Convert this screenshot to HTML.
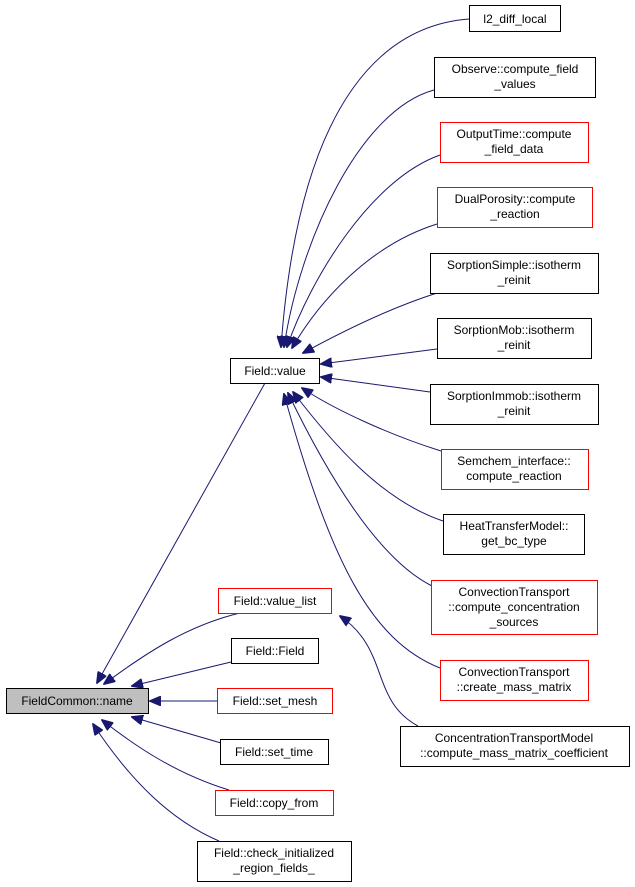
<!DOCTYPE html>
<html><head><meta charset="utf-8"><style>
html,body{margin:0;padding:0;background:#fff;}
svg{display:block;}
text{font-family:"Liberation Sans",sans-serif;font-size:12px;fill:#000;}
</style></head><body>
<svg width="635" height="887" viewBox="0 0 635 887" xmlns="http://www.w3.org/2000/svg">
<defs>
<marker id="a" markerWidth="12" markerHeight="10" refX="11" refY="5" orient="auto" markerUnits="userSpaceOnUse">
<path d="M0,0 L12,5 L0,10 Z" fill="#191970" stroke="#191970"/>
</marker>
</defs>
<g fill="none" stroke="#191970" stroke-width="1" marker-end="url(#a)">
<path d="M469,19 C390,25 300,90 281,347"/>
<path d="M434,90 C360,110 300,240 284,347"/>
<path d="M440,155 C370,180 310,280 287,347"/>
<path d="M437,224 C370,245 320,300 292,348"/>
<path d="M437,293 C390,308 345,330 303,353"/>
<path d="M437,349 L321,364"/>
<path d="M430,392 L321,377"/>
<path d="M441,451 C390,435 335,410 302,388"/>
<path d="M443,521 C380,500 330,440 293,392"/>
<path d="M432,586 C380,560 330,480 288,393"/>
<path d="M440,668 C370,640 330,560 284,394"/>
<path d="M418,726 C370,700 390,650 340,616"/>
<path d="M265,383 L97,683"/>
<path d="M240,613 C190,625 150,650 104,684"/>
<path d="M231,662 L132,686"/>
<path d="M217,701 L150,701"/>
<path d="M221,743 L132,717"/>
<path d="M229,790 C180,775 140,750 102,720"/>
<path d="M219,841 C170,820 130,780 93,724"/>
</g>
<g stroke-width="1">
<rect x="249.5" y="5.5" width="91" height="26" fill="#fff" stroke="#000" transform="translate(220,0)"/>
<rect x="434.5" y="57.5" width="161" height="40" fill="#fff" stroke="#000"/>
<rect x="440.5" y="122.5" width="148" height="40" fill="#fff" stroke="#f00"/>
<rect x="437.5" y="187.5" width="155" height="40" fill="#fff" stroke="#f00"/>
<rect x="430.5" y="253.5" width="168" height="40" fill="#fff" stroke="#000"/>
<rect x="437.5" y="318.5" width="154" height="40" fill="#fff" stroke="#000"/>
<rect x="430.5" y="384.5" width="168" height="40" fill="#fff" stroke="#000"/>
<rect x="441.5" y="449.5" width="147" height="40" fill="#fff" stroke="#f00"/>
<rect x="443.5" y="514.5" width="141" height="40" fill="#fff" stroke="#000"/>
<rect x="431.5" y="580.5" width="166" height="54" fill="#fff" stroke="#f00"/>
<rect x="440.5" y="660.5" width="148" height="40" fill="#fff" stroke="#f00"/>
<rect x="400.5" y="726.5" width="229" height="40" fill="#fff" stroke="#000"/>
<rect x="230.5" y="358.5" width="89" height="25" fill="#fff" stroke="#000"/>
<rect x="6.5" y="688.5" width="142" height="25" fill="#bfbfbf" stroke="#000"/>
<rect x="218.5" y="588.5" width="113" height="25" fill="#fff" stroke="#f00"/>
<rect x="231.5" y="638.5" width="87" height="25" fill="#fff" stroke="#000"/>
<rect x="217.5" y="688.5" width="115" height="25" fill="#fff" stroke="#f00"/>
<rect x="220.5" y="739.5" width="108" height="25" fill="#fff" stroke="#000"/>
<rect x="215.5" y="790.5" width="118" height="25" fill="#fff" stroke="#f00"/>
<rect x="197.5" y="841.5" width="154" height="40" fill="#fff" stroke="#000"/>
</g>
<g text-anchor="middle">
<text x="515" y="23">l2_diff_local</text>
<text x="515" y="73">Observe::compute_field</text><text x="515" y="88">_values</text>
<text x="514" y="138">OutputTime::compute</text><text x="514" y="153">_field_data</text>
<text x="515" y="203">DualPorosity::compute</text><text x="515" y="218">_reaction</text>
<text x="514" y="269">SorptionSimple::isotherm</text><text x="514" y="284">_reinit</text>
<text x="514" y="334">SorptionMob::isotherm</text><text x="514" y="349">_reinit</text>
<text x="514" y="400">SorptionImmob::isotherm</text><text x="514" y="415">_reinit</text>
<text x="514" y="465">Semchem_interface::</text><text x="514" y="480">compute_reaction</text>
<text x="514" y="530">HeatTransferModel::</text><text x="514" y="545">get_bc_type</text>
<text x="514" y="596">ConvectionTransport</text><text x="514" y="611">::compute_concentration</text><text x="514" y="626">_sources</text>
<text x="514" y="676">ConvectionTransport</text><text x="514" y="691">::create_mass_matrix</text>
<text x="514" y="742">ConcentrationTransportModel</text><text x="514" y="757">::compute_mass_matrix_coefficient</text>
<text x="275" y="375">Field::value</text>
<text x="77" y="705">FieldCommon::name</text>
<text x="275" y="605">Field::value_list</text>
<text x="275" y="655">Field::Field</text>
<text x="275" y="705">Field::set_mesh</text>
<text x="274" y="756">Field::set_time</text>
<text x="274" y="807">Field::copy_from</text>
<text x="274" y="857">Field::check_initialized</text><text x="274" y="872">_region_fields_</text>
</g>
</svg>
</body></html>
